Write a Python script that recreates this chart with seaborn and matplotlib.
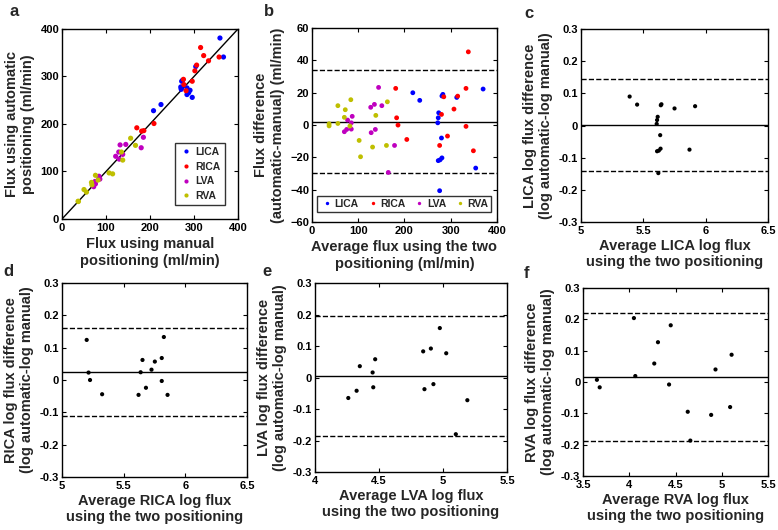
import pandas as pd
import matplotlib
matplotlib.use("Agg")
import matplotlib.pyplot as plt
import seaborn as sns

VASOS = ["LICA", "RICA", "LVA", "RVA"]
CORES = ["#0000ff", "#ff0000", "#bf00bf", "#bfbf00"]

# painel a: fluxo manual vs automatico (ml/min)
lica_manual = [208, 225, 272, 274, 304, 359, 270, 271, 271, 284, 291, 288, 284, 367, 296]
lica_auto = [228, 241, 290, 292, 321, 381, 278, 275, 273, 276, 271, 266, 262, 341, 256]
rica_manual = [170, 181, 186, 209, 282, 277, 276, 296, 302, 306, 322, 333, 315, 357]
rica_auto = [192, 185, 186, 201, 270, 283, 294, 290, 312, 324, 344, 333, 361, 341]
lva_manual = [72, 76, 75, 84, 86, 84, 122, 130, 129, 138, 132, 145, 180, 185]
lva_auto = [68, 74, 79, 86, 84, 90, 132, 126, 141, 136, 156, 157, 150, 172]
rva_manual = [36.6, 37.2, 50, 55.5, 68, 67, 82, 76, 107, 115, 138, 135, 167, 156]
rva_auto = [37.4, 36.8, 62, 56.5, 72, 77, 82, 92, 97, 95, 124, 141, 155, 170]

# painel b: media e diferenca (ml/min)
lica_media = [218, 233, 281, 283, 313, 370, 274, 273, 272, 280, 281, 277, 273, 354, 276]
lica_dif = [20, 15.3, 18, 19, 17.1, 22.3, 7.6, 4.5, 1.4, -8, -20.3, -21.5, -22, -26.6, -40.6]
rica_media = [181, 183, 186, 205, 276, 280, 285, 293, 307, 315, 333, 333, 338, 349]
rica_dif = [22.7, 4.5, 0, -8.9, -12.6, 6.6, 17.5, -6.8, 9.9, 17.9, 22.7, -0.8, 45.3, -15.9]
lva_media = [70, 75, 77, 85, 85, 87, 127, 128, 135, 137, 144, 151, 165, 178.5]
lva_dif = [-4.1, -2.7, 3.1, 1.4, -2.5, 5.4, 11, -4.7, 12.8, -2.7, 23.3, 12, -29.3, -12.6]
rva_media = [37, 37, 56, 56, 70, 72, 82, 84, 102, 105, 131, 138, 161, 163]
rva_dif = [0.8, -0.5, 12, 1, 4.8, 9.5, -0.6, 15.7, -9.5, -19.6, -13.6, 6, -12.6, 14.4]
b_linhas = [2.0, 33.9, -29.9]  # media, limites

# paineis c-f: media log e diferenca log
lica_log_media = [5.39, 5.45, 5.64, 5.645, 5.75, 5.915, 5.615, 5.61, 5.607, 5.635, 5.638, 5.624, 5.61, 5.87, 5.62]
lica_log_dif = [0.090, 0.065, 0.063, 0.066, 0.053, 0.060, 0.027, 0.017, 0.005, -0.030, -0.072, -0.078, -0.080, -0.075, -0.148]
rica_log_media = [5.20, 5.215, 5.227, 5.325, 5.62, 5.637, 5.652, 5.68, 5.725, 5.752, 5.808, 5.808, 5.825, 5.855]
rica_log_dif = [0.124, 0.023, 0.0, -0.044, -0.046, 0.024, 0.062, -0.024, 0.032, 0.057, 0.068, -0.003, 0.133, -0.046]
lva_log_media = [4.26, 4.325, 4.35, 4.45, 4.455, 4.47, 4.845, 4.855, 4.905, 4.925, 4.975, 5.025, 5.10, 5.19]
lva_log_dif = [-0.065, -0.042, 0.036, 0.016, -0.031, 0.058, 0.083, -0.037, 0.092, -0.021, 0.157, 0.077, -0.180, -0.072]
rva_log_media = [3.65, 3.68, 4.05, 4.065, 4.27, 4.31, 4.43, 4.448, 4.632, 4.66, 4.885, 4.932, 5.09, 5.106]
rva_log_dif = [0.007, -0.017, 0.204, 0.019, 0.059, 0.127, -0.008, 0.181, -0.095, -0.187, -0.105, 0.040, -0.080, 0.087]
log_linhas = {"LICA": [0.002, 0.145, -0.141], "RICA": [0.026, 0.162, -0.112],
              "LVA": [0.004, 0.195, -0.186], "RVA": [0.016, 0.220, -0.188]}

sns.set_style("ticks")
plt.rcParams["font.family"] = ["Liberation Sans", "DejaVu Sans"]
plt.rcParams["font.weight"] = "bold"
plt.rcParams["axes.labelweight"] = "bold"
plt.rcParams["axes.linewidth"] = 1.0

fig = plt.figure(figsize=(7.78, 5.30), dpi=100)
TAM_ROTULO = 10.5


def estilo(ax):
    ax.tick_params(direction="in", top=True, right=True, length=3, width=0.8,
                   labelsize=8, pad=2, colors="black")
    ax.tick_params(axis="x", pad=3)
    for s in ax.spines.values():
        s.set_visible(True)
        s.set_color("black")
        s.set_linewidth(1.0)
    for t in ax.get_xticklabels() + ax.get_yticklabels():
        t.set_fontweight("bold")


def junta(listas, cx, cy):
    partes = []
    for vaso, (x, y) in zip(VASOS, listas):
        partes.append(pd.DataFrame({cx: x, cy: y, "vaso": vaso}))
    return pd.concat(partes, ignore_index=True)


# a
df_a = junta([(lica_manual, lica_auto), (rica_manual, rica_auto),
              (lva_manual, lva_auto), (rva_manual, rva_auto)], "manual", "auto")
ax = fig.add_axes([0.0797, 0.5868, 0.2262, 0.3585])
ax.plot([0, 400], [0, 400], color="black", lw=1)
sns.scatterplot(data=df_a, x="manual", y="auto", hue="vaso", palette=CORES,
                s=14, edgecolor="none", ax=ax, zorder=3)
ax.set_xlim(0, 400)
ax.set_ylim(0, 400)
ax.set_xticks([0, 100, 200, 300, 400])
ax.set_yticks([0, 100, 200, 300, 400])
ax.set_xlabel("Flux using manual\npositioning (ml/min)", fontsize=TAM_ROTULO, labelpad=3)
ax.set_ylabel("Flux using automatic\npositioning (ml/min)", fontsize=TAM_ROTULO, labelpad=4)
leg = ax.legend(loc="lower right", frameon=True, fancybox=False, edgecolor="black",
                prop={"weight": "bold", "size": 7.5}, handletextpad=0.2,
                borderpad=0.4, labelspacing=0.45, markerscale=0.8,
                handlelength=1.4, bbox_to_anchor=(0.955, 0.045))
leg.get_frame().set_linewidth(1.0)
estilo(ax)

# b
df_b = junta([(lica_media, lica_dif), (rica_media, rica_dif),
              (lva_media, lva_dif), (rva_media, rva_dif)], "media", "dif")
ax = fig.add_axes([0.401, 0.581, 0.2378, 0.366])
ax.axhline(b_linhas[0], color="black", lw=1)
ax.axhline(b_linhas[1], color="black", lw=1, ls="--")
ax.axhline(b_linhas[2], color="black", lw=1, ls="--")
sns.scatterplot(data=df_b, x="media", y="dif", hue="vaso", palette=CORES,
                s=12, edgecolor="none", ax=ax, zorder=3)
ax.set_xlim(0, 400)
ax.set_ylim(-60, 60)
ax.set_xticks([0, 100, 200, 300, 400])
ax.set_yticks([-60, -40, -20, 0, 20, 40, 60])
ax.set_xlabel("Average flux using the two\npositioning (ml/min)", fontsize=TAM_ROTULO, labelpad=3)
ax.set_ylabel("Flux difference\n(automatic-manual) (ml/min)", fontsize=TAM_ROTULO, labelpad=4)
leg = ax.legend(loc="lower center", ncol=4, frameon=True, fancybox=False,
                edgecolor="black", prop={"weight": "bold", "size": 7.5},
                handletextpad=0.05, columnspacing=0.7, borderpad=0.3,
                handlelength=1.3, markerscale=0.7, bbox_to_anchor=(0.5, 0.025))
leg.get_frame().set_linewidth(1.0)
estilo(ax)

# c-f
paineis = [
    ("LICA", lica_log_media, lica_log_dif, [0.7468, 0.5811, 0.2404, 0.3642], (5, 6.5), [5, 5.5, 6, 6.5]),
    ("RICA", rica_log_media, rica_log_dif, [0.0797, 0.1000, 0.2380, 0.3660], (5, 6.5), [5, 5.5, 6, 6.5]),
    ("LVA", lva_log_media, lva_log_dif, [0.4049, 0.1094, 0.2468, 0.3566], (4, 5.5), [4, 4.5, 5, 5.5]),
    ("RVA", rva_log_media, rva_log_dif, [0.7494, 0.1019, 0.2378, 0.3547], (3.5, 5.5), [3.5, 4, 4.5, 5, 5.5]),
]
for vaso, xm, yd, pos, lim, xt in paineis:
    ax = fig.add_axes(pos)
    m, sup, inf = log_linhas[vaso]
    ax.axhline(m, color="black", lw=1)
    ax.axhline(sup, color="black", lw=1, ls="--")
    ax.axhline(inf, color="black", lw=1, ls="--")
    sns.scatterplot(x=xm, y=yd, color="black", s=9, edgecolor="none", ax=ax, zorder=3)
    ax.set_xlim(*lim)
    ax.set_ylim(-0.3, 0.3)
    ax.set_xticks(xt)
    ax.set_xticklabels([f"{v:g}" for v in xt])
    yt = [-0.3, -0.2, -0.1, 0, 0.1, 0.2, 0.3]
    ax.set_yticks(yt)
    ax.set_yticklabels([f"{v:g}" for v in yt])
    ax.set_xlabel(f"Average {vaso} log flux\nusing the two positioning", fontsize=TAM_ROTULO, labelpad=2)
    ax.set_ylabel(f"{vaso} log flux difference\n(log automatic-log manual)", fontsize=TAM_ROTULO, labelpad=4)
    estilo(ax)

for letra, (px, py) in zip("abcdef", [(10, 12), (264, 12), (524, 14), (3, 272), (262, 272), (524, 274)]):
    fig.text(px / 778, 1 - py / 530, letra, fontsize=12, fontweight="bold", va="center", ha="left")

fig.savefig("out.png", dpi=100)
plt.close()
